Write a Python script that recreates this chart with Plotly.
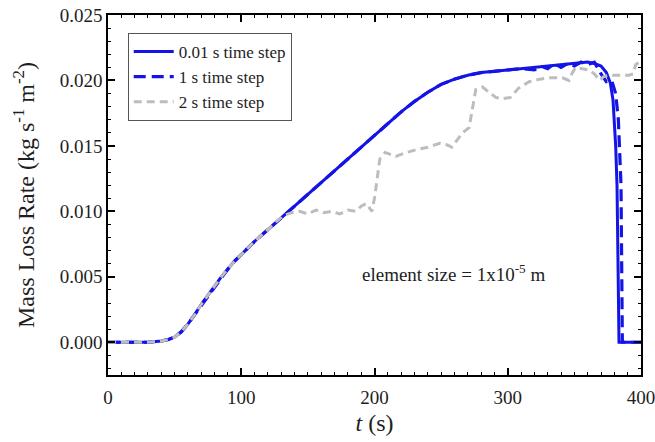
import plotly.graph_objects as go

# 0.01 s time step
t_fine = [0, 10, 20, 30, 40, 45, 50, 55, 60, 65, 70, 75, 80, 85, 90, 95, 100, 110, 120, 130,
          140, 150, 160, 170, 180, 190, 200, 210, 220, 230, 240, 250, 260, 270, 280, 290,
          300, 310, 320, 330, 340, 350, 355, 360, 365, 370, 374, 377, 379, 380, 381, 382,
          383, 383.5, 390, 400]
v_fine = [0, 0, 0, 0, 0.0001, 0.0002, 0.0004, 0.0008, 0.0014, 0.0021, 0.0029, 0.0036, 0.0043,
          0.0050, 0.0056, 0.0062, 0.0067, 0.0077, 0.0086, 0.0095, 0.0104, 0.0113, 0.0122,
          0.0131, 0.0140, 0.0149, 0.0158, 0.0167, 0.0176, 0.0184, 0.0191, 0.0197, 0.0201,
          0.0204, 0.0206, 0.0207, 0.0208, 0.0209, 0.0210, 0.0211, 0.0212, 0.0213, 0.0214,
          0.0214, 0.0213, 0.0211, 0.0206, 0.0198, 0.0185, 0.0170, 0.0150, 0.0120, 0.0050,
          0, 0, 0]

# 1 s time step
t_mid = [0, 10, 20, 30, 40, 45, 50, 55, 60, 65, 70, 75, 80, 85, 90, 95, 100, 110, 120, 130,
         140, 150, 160, 170, 180, 190, 200, 210, 220, 230, 240, 250, 260, 270, 280, 290,
         300, 310, 320, 325, 330, 335, 340, 345, 350, 355, 360, 365, 370, 374, 378, 381,
         383, 384, 385, 386, 390, 400]
v_mid = [0, 0, 0, 0, 0.0001, 0.0002, 0.0004, 0.0008, 0.0014, 0.0021, 0.0029, 0.0036, 0.0043,
         0.0050, 0.0056, 0.0062, 0.0067, 0.0077, 0.0086, 0.0095, 0.0104, 0.0113, 0.0122,
         0.0131, 0.0140, 0.0149, 0.0158, 0.0167, 0.0176, 0.0184, 0.0191, 0.0197, 0.0201,
         0.0204, 0.0206, 0.0207, 0.0208, 0.0209, 0.0208, 0.0211, 0.0209, 0.0213, 0.0210,
         0.0213, 0.0211, 0.0214, 0.0212, 0.0214, 0.0205, 0.0199, 0.0200, 0.0190, 0.0170,
         0.0150, 0.0120, 0, 0, 0]

# 2 s time step
t_coarse = [0, 10, 20, 30, 40, 45, 50, 55, 60, 65, 70, 75, 80, 85, 90, 95, 100, 110, 120,
            126, 132, 138, 144, 150, 156, 162, 168, 174, 180, 186, 190, 194, 198, 200, 204,
            208, 216, 224, 231, 240, 249, 254, 258, 262, 266, 271, 274, 276, 281, 286, 291,
            296, 302, 308, 316, 324, 332, 341, 346, 348, 351, 356, 361, 365, 369, 372, 376,
            384, 391, 394, 396, 400]
v_coarse = [0, 0, 0, 0, 0.0001, 0.0002, 0.0004, 0.0008, 0.0014, 0.0021, 0.0029, 0.0036,
            0.0043, 0.0050, 0.0056, 0.0062, 0.0067, 0.0077, 0.0086, 0.0092, 0.0097, 0.0099,
            0.0100, 0.0098, 0.0101, 0.0099, 0.0100, 0.0098, 0.0101, 0.0100, 0.0104, 0.0106,
            0.0100, 0.0110, 0.0140, 0.0145, 0.0142, 0.0145, 0.0147, 0.0149, 0.0152, 0.0151,
            0.0149, 0.0155, 0.0160, 0.0164, 0.0180, 0.0193, 0.0195, 0.0191, 0.0187, 0.0186,
            0.0187, 0.0194, 0.0199, 0.0201, 0.0202, 0.0202, 0.0200, 0.0205, 0.0210, 0.0209,
            0.0208, 0.0205, 0.0200, 0.0203, 0.0204, 0.0204, 0.0204, 0.0205, 0.0212, 0.0215]

x_ticks = [0, 100, 200, 300, 400]
y_ticks = [0.000, 0.005, 0.010, 0.015, 0.020, 0.025]

BLUE = "#1414e6"
GRAY = "#bdbdbd"
FONT = "Liberation Serif"
TXT = "#1e1e1e"

fig = go.Figure()
fig.add_trace(go.Scatter(x=t_fine, y=v_fine, mode="lines", name="0.01 s time step",
                         line=dict(color=BLUE, width=3)))
fig.add_trace(go.Scatter(x=t_mid, y=v_mid, mode="lines", name="1 s time step",
                         line=dict(color=BLUE, width=3.2, dash="12px,6px")))
fig.add_trace(go.Scatter(x=t_coarse, y=v_coarse, mode="lines", name="2 s time step",
                         line=dict(color=GRAY, width=3, dash="8px,5px")))

axis_common = dict(
    showline=True, linecolor="black", linewidth=1.5, mirror="ticks",
    ticks="inside", ticklen=7, tickwidth=1.5, tickcolor="black",
    showgrid=False, zeroline=False, automargin=False,
    ticklabeloverflow="allow",
    tickfont=dict(family=FONT, size=19, color=TXT),
)

fig.update_layout(
    width=655, height=442,
    margin=dict(l=108, r=14, t=15, b=67),
    paper_bgcolor="white", plot_bgcolor="white",
    font=dict(family=FONT, color=TXT),
    showlegend=True,
    legend=dict(x=0.037, y=0.95, xanchor="left", yanchor="top",
                traceorder="normal",
                bgcolor="white", bordercolor="#555", borderwidth=1,
                font=dict(family=FONT, size=17, color=TXT),
                itemwidth=40, tracegroupgap=0),
    xaxis=dict(range=[0, 400], tickvals=x_ticks, ticklabelstandoff=4,
               minor=dict(dtick=10, ticks="inside", ticklen=3, tickcolor="black", tickwidth=1),
               title=dict(text="<i>t</i> (s)", font=dict(family=FONT, size=24, color=TXT),
                          standoff=8),
               **axis_common),
    yaxis=dict(range=[-0.0025, 0.025], tickvals=y_ticks, tickformat=".3f",
               minor=dict(dtick=0.001, ticks="inside", ticklen=3, tickcolor="black", tickwidth=1),
               title=dict(text="Mass Loss Rate (kg s<sup>-1</sup> m<sup>-2</sup>)",
                          font=dict(family=FONT, size=24, color=TXT), standoff=18),
               **axis_common),
    annotations=[dict(x=259, y=0.0053, xref="x", yref="y",
                      text="element size = 1x10<sup>-5</sup> m", showarrow=False,
                      font=dict(family=FONT, size=19, color=TXT))],
)

fig.write_html("out.html", config={"displayModeBar": False},
               post_script="document.body.style.margin='0';document.body.style.overflow='hidden';")
